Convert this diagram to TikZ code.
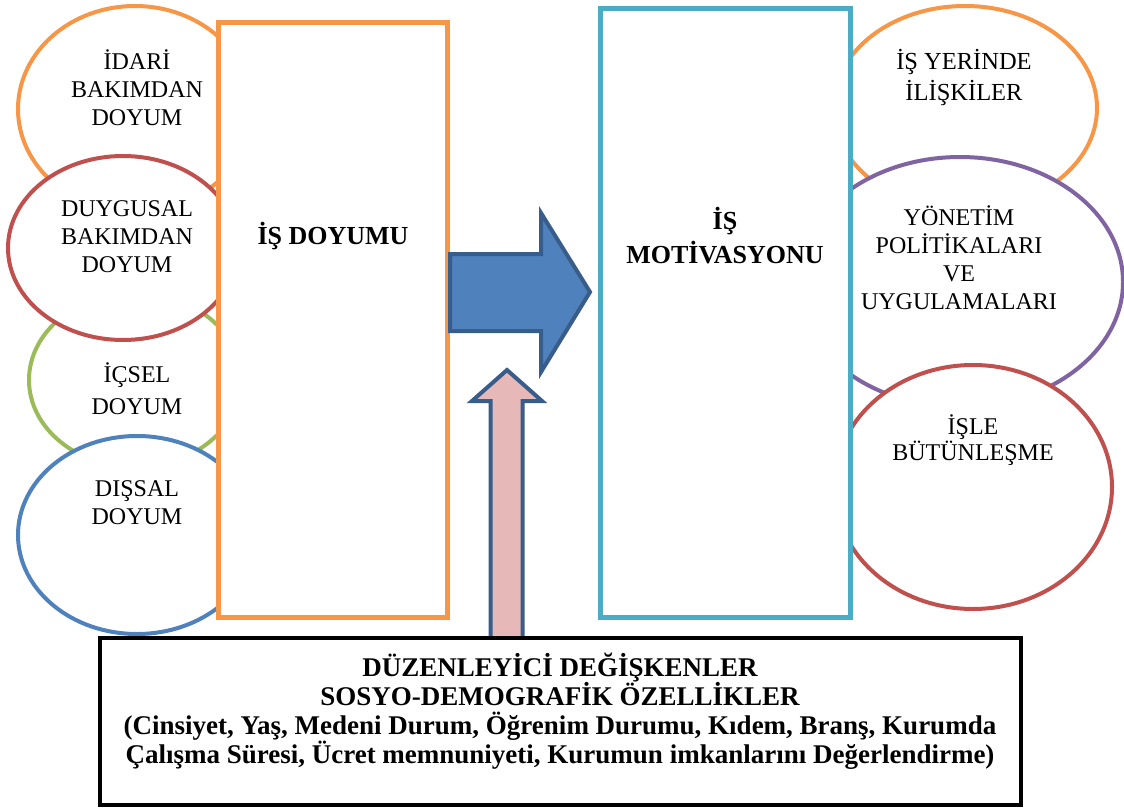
\documentclass[tikz,border=0pt]{standalone}
\usepackage{fontspec}
\setmainfont{Liberation Serif}
\usetikzlibrary{shapes.geometric}
\definecolor{cOrange}{HTML}{F79646}
\definecolor{cRed}{HTML}{C0504D}
\definecolor{cGreen}{HTML}{9BBB59}
\definecolor{cBlue}{HTML}{4F81BD}
\definecolor{cPurple}{HTML}{8064A2}
\definecolor{cTeal}{HTML}{4BACC6}
\definecolor{cDark}{HTML}{385D8A}
\definecolor{cPink}{HTML}{E6B9B8}
\begin{document}
\begin{tikzpicture}[x=1pt,y=-1pt,
  ell/.style={ellipse, draw, line width=4pt, fill=white, inner sep=0pt},
  lbl/.style={font=\fontsize{24}{28}\selectfont, align=center, inner sep=0pt},
  ttl/.style={font=\fontsize{26}{34}\selectfont\bfseries, align=center, inner sep=0pt},
  boxtxt/.style={font=\fontsize{27}{29}\selectfont\bfseries, align=center, inner sep=0pt},
  bigrect/.style={draw, line width=5pt, fill=white, inner sep=0pt},
  blockarrow/.style={draw=cDark, line width=4pt, line join=miter}
]
\useasboundingbox (0,0) rectangle (1124,808);
\clip (0,0) rectangle (1124,808);
\fill[white] (0,0) rectangle (1124,808);

% left ellipses
\node[ell, draw=cOrange, minimum width=234pt, minimum height=206pt] (eA) at (135,109) {};
\node[ell, draw=cGreen, minimum width=212pt, minimum height=174pt] (eC) at (135,380) {};
\node[ell, draw=cRed, minimum width=230pt, minimum height=184pt] (eB) at (123,248) {};
\node[ell, draw=cBlue, minimum width=238pt, minimum height=198pt] (eD) at (137,535) {};

% right ellipses
\node[ell, draw=cOrange, minimum width=264pt, minimum height=204pt] (eE) at (965,108) {};
\node[ell, draw=cPurple, minimum width=326pt, minimum height=250pt] (eF) at (960,282) {};
\node[ell, draw=cRed, minimum width=278pt, minimum height=244pt] (eG) at (973,487) {};

% rectangles
\node[bigrect, draw=cOrange, minimum width=229pt, minimum height=595pt] (rL) at (333,320) {};
\node[bigrect, draw=cTeal, minimum width=250pt, minimum height=609pt] (rR) at (725,313) {};

% labels
\node[lbl] (tA) at (137,88) {İDARİ\\BAKIMDAN\\DOYUM};
\node[lbl] (tB) at (127,237) {DUYGUSAL\\BAKIMDAN\\DOYUM};
\node[lbl, font=\fontsize{24}{32}\selectfont] (tC) at (137,389) {İÇSEL\\DOYUM};
\node[lbl] (tD) at (137,503) {DIŞSAL\\DOYUM};
\node[lbl, font=\fontsize{24.5}{31}\selectfont] (tE) at (964,77) {İŞ YERİNDE\\İLİŞKİLER};
\node[lbl] (tF) at (959,258) {YÖNETİM\\POLİTİKALARI\\VE\\UYGULAMALARI};
\node[lbl, font=\fontsize{24}{26}\selectfont] (tG) at (973,440) {İŞLE\\BÜTÜNLEŞME};

\node[ttl] (tL) at (333,236) {İŞ DOYUMU};
\node[ttl] (tR) at (725,236) {İŞ\\MOTİVASYONU};

% block arrows
\filldraw[blockarrow, fill=cBlue] (rL.east |- 0,254) -- (541,254) -- (541,213) -- (590,292)
  -- (541,372) -- (541,331) -- (rL.east |- 0,331) -- cycle;
\filldraw[blockarrow, fill=cPink] (490.5,645) -- (490.5,401) -- (472,401) -- (507,370)
  -- (542,401) -- (522.5,401) -- (522.5,645) -- cycle;

% bottom box
\node[draw=black, line width=4pt, fill=white, minimum width=921pt, minimum height=167pt, inner sep=0pt] (bx) at (560.5,721.5) {};
\node[boxtxt] (tx) at (560,711) {DÜZENLEYİCİ DEĞİŞKENLER\\SOSYO-DEMOGRAFİK ÖZELLİKLER\\(Cinsiyet, Yaş, Medeni Durum, Öğrenim Durumu, Kıdem, Branş, Kurumda\\Çalışma Süresi, Ücret memnuniyeti, Kurumun imkanlarını Değerlendirme)};
\end{tikzpicture}
\end{document}
